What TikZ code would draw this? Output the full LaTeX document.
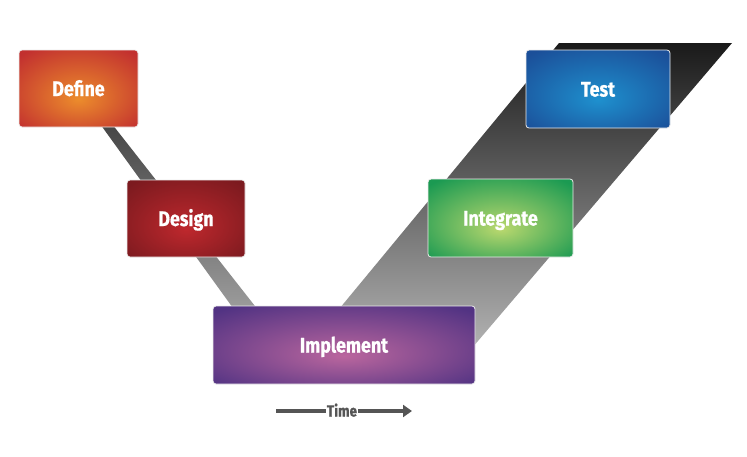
\documentclass[tikz,border=0pt]{standalone}
\usepackage{fontspec}
\setmainfont{Fira Sans}
\newfontfamily\stagefont[FakeStretch=0.85, BoldFeatures={FakeBold=0.8}]{Fira Sans}
\usetikzlibrary{arrows.meta}

\definecolor{definein}{HTML}{EC8C2C}
\definecolor{defineout}{HTML}{C2302F}
\definecolor{designin}{HTML}{BE282D}
\definecolor{designout}{HTML}{7C1A1F}
\definecolor{implin}{HTML}{BA669E}
\definecolor{implout}{HTML}{523383}
\definecolor{integin}{HTML}{BAD86E}
\definecolor{integout}{HTML}{1B9A52}
\definecolor{testin}{HTML}{1E90CE}
\definecolor{testout}{HTML}{1B4F99}
\definecolor{timegray}{HTML}{555555}

\newcommand\stageglow[3]{\pgfdeclareradialshading{#1}{\pgfpoint{0bp}{-7bp}}{color(0bp)=(#2); color(34bp)=(#3); color(50bp)=(#3)}}
\stageglow{defineglow}{definein}{defineout}
\stageglow{designglow}{designin}{designout}
\stageglow{implglow}{implin}{implout}
\stageglow{integglow}{integin}{integout}
\stageglow{testglow}{testin}{testout}

\begin{document}
\begin{tikzpicture}[x=1pt,y=-1pt,
    stage/.style={draw=white!85!gray, line width=0.8pt, rounded corners=3pt, text=white,
        font=\stagefont\bfseries\fontsize{21}{24}\selectfont, text height=15pt, text depth=0pt,
        minimum height=77pt}]
    \useasboundingbox (0,0) rectangle (747,456);
    % the two arms of the V
    \shade[top color=black!75, bottom color=black!38] (90,110) -- (101,110) -- (262,315) -- (238,315) -- cycle;
    \shade[top color=black!90, bottom color=black!30] (559,43) -- (732,43) -- (472,348) -- (330,320) -- cycle;
    \node[stage, shading=defineglow, minimum width=119pt] (define) at (78.5,88.5) {Define};
    \node[stage, shading=designglow, minimum width=118pt] (design) at (186,218.5) {Design};
    \node[stage, shading=implglow, minimum width=262pt, minimum height=78pt] (implement) at (344,345) {Implement};
    \node[stage, shading=integglow, minimum width=145pt, minimum height=78pt] (integrate) at (500.5,218) {Integrate};
    \node[stage, shading=testglow, minimum width=144pt, minimum height=78pt] (test) at (598,89) {Test};
    % time axis
    \coordinate (tstart) at (276,411);
    \coordinate (tend) at (412,411);
    \node[text=timegray, inner sep=1pt, text height=11pt, text depth=0pt,
        font=\stagefont\bfseries\fontsize{16}{18}\selectfont] (time) at (342,411) {Time};
    \draw[timegray, line width=4pt] (tstart) -- (time);
    \draw[timegray, line width=4pt, -{Triangle[length=9pt,width=12pt]}] (time) -- (tend);
\end{tikzpicture}
\end{document}
